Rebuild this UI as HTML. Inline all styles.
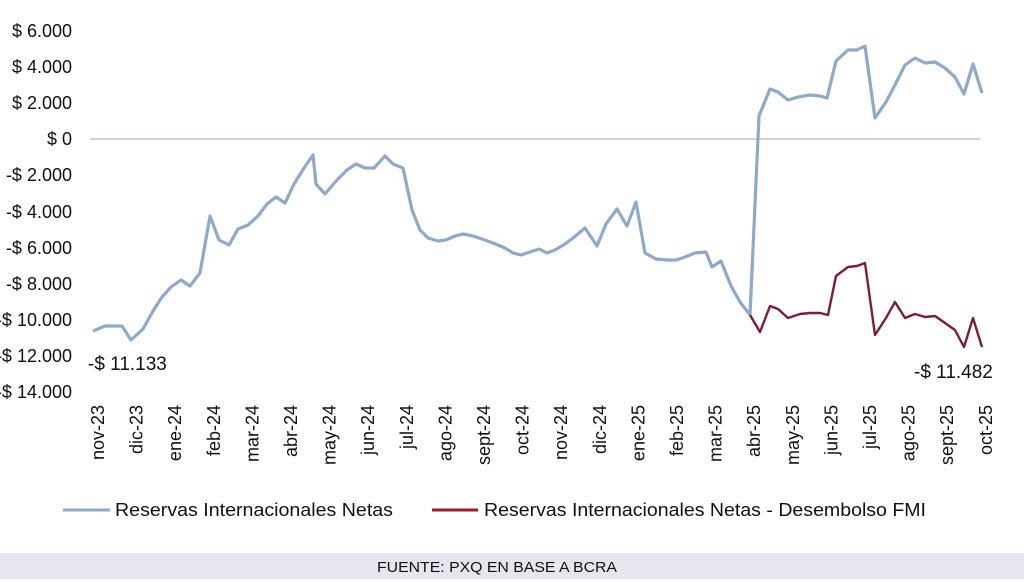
<!DOCTYPE html>
<html><head><meta charset="utf-8"><style>
body{margin:0;width:1024px;height:582px;background:#fff;overflow:hidden;font-family:"Liberation Sans",sans-serif}
</style></head><body>
<svg width="1024" height="582" xmlns="http://www.w3.org/2000/svg" style="position:absolute;left:0;top:0">
<g font-family="Liberation Sans, sans-serif" font-size="18" fill="#111" text-anchor="end">
<text x="72" y="37">$ 6.000</text>
<text x="72" y="73">$ 4.000</text>
<text x="72" y="109">$ 2.000</text>
<text x="72" y="145">$ 0</text>
<text x="72" y="181">-$ 2.000</text>
<text x="72" y="218">-$ 4.000</text>
<text x="72" y="254">-$ 6.000</text>
<text x="72" y="290">-$ 8.000</text>
<text x="72" y="326">-$ 10.000</text>
<text x="72" y="362">-$ 12.000</text>
<text x="72" y="398">-$ 14.000</text>
</g>
<line x1="90" y1="139" x2="980" y2="139" stroke="#b8c4dc" stroke-width="1.5"/>
<polyline fill="none" stroke="#8ea9c9" stroke-width="3.2" stroke-linejoin="round" points="93,331 105,326 122,326 131,340 143,329 153,311 162,297 171,287 181,280 190,286 200,273 210,216 219,240 229,245 238,229 248,225 258,216 267,204 276,197 285,203 294,184 304,168 313,155 316,184 325,194 337,180 347,170 356,164 365,168 374,168 385,156 393,164 403,168 412,210 420,230 428,238 438,241 446,240 455,236 463,234 473,236 482,239 493,243 505,248 513,253 521,255 530,252 539,249 547,253 555,250 565,244 573,238 585,228 597,246 606,224 617,209 627,226 636,202 645,253 656,259 667,260 676,260 685,257 695,253 706,252 712,267 721,261 731,286 740,302 750,315 759,116 770,89 778,92 788,100 798,97 810,95 820,96 827,98 836,61 848,50 857,50 865,46 875,118 886,102 896,83 905,65 915,58 925,63 935,62 945,68 955,77 964,94 973,64 982,93"/>
<polyline fill="none" stroke="#7b1f2e" stroke-width="2.4" stroke-linejoin="round" points="750,315 760,332 770,306 778,309 788,318 800,314 810,313 820,313 828,315 836,276 848,267 857,266 865,263 875,335 886,318 895,302 905,318 915,314 925,317 935,316 945,323 955,330 964,347 973,318 982,347"/>
<text x="88" y="370" font-size="19" fill="#111">-$ 11.133</text>
<text x="914" y="378" font-size="19" fill="#111">-$ 11.482</text>
<g font-size="18" fill="#111" text-anchor="end">
<text transform="translate(104,405) rotate(-90)">nov-23</text>
<text transform="translate(142.6,405) rotate(-90)">dic-23</text>
<text transform="translate(181.2,405) rotate(-90)">ene-24</text>
<text transform="translate(219.8,405) rotate(-90)">feb-24</text>
<text transform="translate(258.4,405) rotate(-90)">mar-24</text>
<text transform="translate(297,405) rotate(-90)">abr-24</text>
<text transform="translate(335.6,405) rotate(-90)">may-24</text>
<text transform="translate(374.2,405) rotate(-90)">jun-24</text>
<text transform="translate(412.8,405) rotate(-90)">jul-24</text>
<text transform="translate(451.4,405) rotate(-90)">ago-24</text>
<text transform="translate(490,405) rotate(-90)">sept-24</text>
<text transform="translate(528.6,405) rotate(-90)">oct-24</text>
<text transform="translate(567.2,405) rotate(-90)">nov-24</text>
<text transform="translate(605.8,405) rotate(-90)">dic-24</text>
<text transform="translate(644.4,405) rotate(-90)">ene-25</text>
<text transform="translate(683,405) rotate(-90)">feb-25</text>
<text transform="translate(721.6,405) rotate(-90)">mar-25</text>
<text transform="translate(760.2,405) rotate(-90)">abr-25</text>
<text transform="translate(798.8,405) rotate(-90)">may-25</text>
<text transform="translate(837.4,405) rotate(-90)">jun-25</text>
<text transform="translate(876,405) rotate(-90)">jul-25</text>
<text transform="translate(914.6,405) rotate(-90)">ago-25</text>
<text transform="translate(953.2,405) rotate(-90)">sept-25</text>
<text transform="translate(991.8,405) rotate(-90)">oct-25</text>
</g>
<line x1="63" y1="510" x2="110" y2="510" stroke="#8ea9c9" stroke-width="3"/>
<text x="115" y="516" font-size="18" fill="#111" textLength="278" lengthAdjust="spacingAndGlyphs">Reservas Internacionales Netas</text>
<line x1="432" y1="510" x2="478" y2="510" stroke="#9b1c28" stroke-width="3"/>
<text x="484" y="516" font-size="18" fill="#111" textLength="442" lengthAdjust="spacingAndGlyphs">Reservas Internacionales Netas - Desembolso FMI</text>
<rect x="0" y="553" width="1024" height="26" fill="#e6e6ee"/>
<text x="377" y="572" font-size="15" fill="#111" textLength="240" lengthAdjust="spacingAndGlyphs">FUENTE: PXQ EN BASE A BCRA</text>
</svg>
</body></html>
